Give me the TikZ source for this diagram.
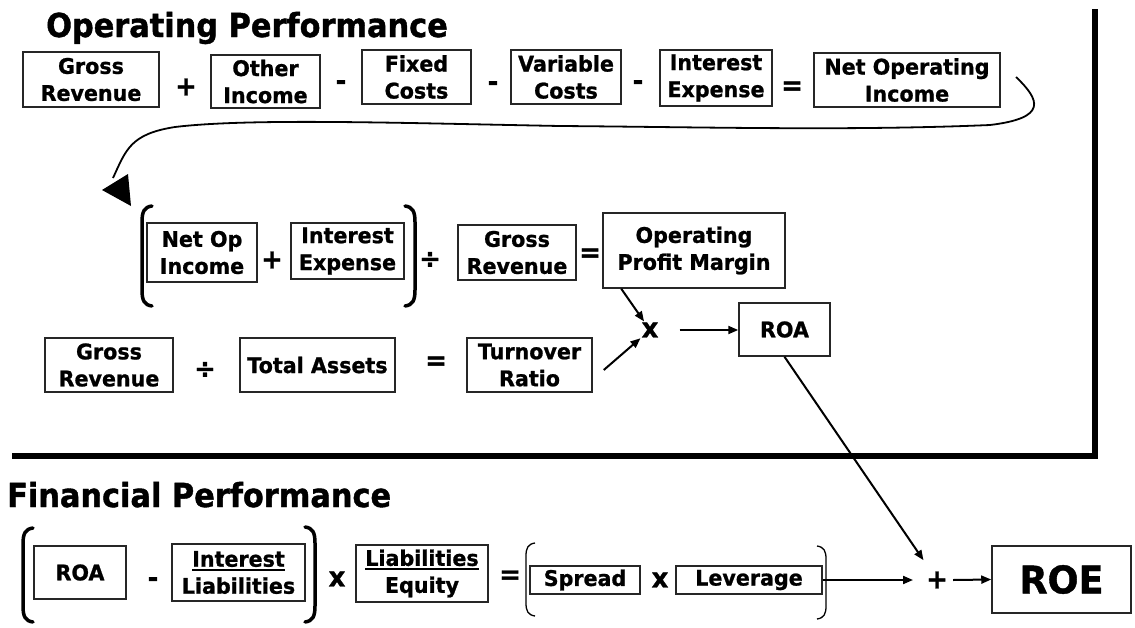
\documentclass[tikz,border=0pt]{standalone}
\usepackage{fontspec}
\setmainfont{DejaVu Sans}
\newfontfamily\titlef[FakeStretch=0.92,FakeBold=1.2]{DejaVu Sans}
\newfontfamily\boxf[FakeStretch=0.96,FakeBold=1.0]{DejaVu Sans}
\usetikzlibrary{arrows.meta}
\newcommand\myul[1]{\setbox0\hbox{#1}\rlap{\rule[-4pt]{\wd0}{2pt}}\box0}
\begin{document}
\begin{tikzpicture}[x=1pt,y=-1pt,
 bx/.style={draw=black!85, line width=1.5pt, inner sep=0pt, align=center, font=\boxf\fontsize{21.5}{27}\selectfont\bfseries},
 op/.style={inner sep=1pt, font=\boxf\fontsize{27}{30}\selectfont\bfseries},
 ttl/.style={anchor=base west, inner sep=0pt, font=\titlef\fontsize{33}{40}\selectfont\bfseries},
 arr/.style={line width=2pt, -{Triangle[length=10pt,width=8pt]}},
 bigbr/.style={line width=3.5pt, line cap=round},
 thinbr/.style={line width=1.3pt},
 frame/.style={line width=6pt}]
\useasboundingbox[fill=white] (0,0) rectangle (1135,627);

% titles
\node[ttl] (t1) at (46,37) {Operating Performance};
\node[ttl] (t2) at (7,507) {Financial Performance};

% row 1
\node[bx, minimum width=136pt, minimum height=55pt] (gr1) at (91,79.5) {Gross\\Revenue};
\node[op] (p1) at (186,87) {+};
\node[bx, minimum width=109pt, minimum height=53pt] (oi) at (265.5,81.5) {Other\\Income};
\node[op] (m1) at (341,85) {-};
\node[bx, minimum width=109pt, minimum height=54pt] (fc) at (416.5,77) {Fixed\\Costs};
\node[op] (m2) at (493,86) {-};
\node[bx, minimum width=110pt, minimum height=54pt] (vc) at (566,77) {Variable\\Costs};
\node[op] (m3) at (638,85) {-};
\node[bx, minimum width=112pt, minimum height=56pt] (ie) at (716,78) {Interest\\Expense};
\node[op] (e1) at (792,88) {=};
\node[bx, minimum width=186pt, minimum height=54pt] (noi) at (907,80) {Net Operating\\Income};

% curved connector
\coordinate (cs) at (1016,77);
\coordinate (ce) at (113,178);
\draw[line width=1.8pt] (cs) .. controls (1040,100) and (1048,118) .. (990,125)
  .. controls (850,131) and (700,127) .. (560,126)
  .. controls (400,123) and (250,118) .. (175,127)
  .. controls (130,134) and (126,150) .. (ce);
\fill (102,190) -- (128,174) -- (131,206) -- cycle;

% row 2
\draw[bigbr] (152,206) .. controls (144,207) and (142,212) .. (142,222) -- (142,290) .. controls (142,300) and (144,305) .. (152,306);
\node[bx, minimum width=110pt, minimum height=59pt] (nop) at (202,252.5) {Net Op\\Income};
\node[op] (p2) at (272,260) {+};
\node[bx, minimum width=113pt, minimum height=56pt] (ie2) at (347.5,251) {Interest\\Expense};
\draw[bigbr] (405,206) .. controls (413,207) and (415,212) .. (415,222) -- (415,290) .. controls (415,300) and (413,305) .. (405,306);
\node[op] (d1) at (430,260) {÷};
\node[bx, minimum width=118pt, minimum height=55pt] (gr2) at (517,252.5) {Gross\\Revenue};
\node[op] (e2) at (590,255) {=};
\node[bx, minimum width=182pt, minimum height=75pt] (opm) at (694,250.5) {Operating\\Profit Margin};

\node[op] (mul) at (650,330) {x};
\node[bx, minimum width=91pt, minimum height=53pt] (roa) at (784.5,329.5) {ROA};

% row 3
\node[bx, minimum width=128pt, minimum height=54pt] (gr3) at (109,365) {Gross\\Revenue};
\node[op] (d2) at (205,370) {÷};
\node[bx, minimum width=155pt, minimum height=54pt] (ta) at (317.5,365) {Total Assets};
\node[op] (e3) at (436,363) {=};
\node[bx, minimum width=125pt, minimum height=54pt] (tr) at (529.5,365) {Turnover\\Ratio};

\draw[arr] ([xshift=19pt]opm.south west) -- (mul);
\draw[arr] ([xshift=11pt,yshift=-5pt]tr.east) -- (mul);
\draw[arr] ([xshift=20pt]mul.east) -- (mul.east -| roa.west);

% frame
\coordinate (ft) at (1095,9);
\coordinate (fc) at (1095,456);
\coordinate (fl) at (12,456);
\draw[frame] (ft) -- (fc) -- (fl);

% financial row
\draw[bigbr] (33,528) .. controls (25,529) and (23,534) .. (23,544) -- (23,606) .. controls (23,616) and (25,621) .. (33,622);
\node[bx, minimum width=92pt, minimum height=53pt] (roa2) at (80,572.5) {ROA};
\node[op] (m4) at (153,582) {-};
\node[bx, minimum width=133pt, minimum height=57pt] (il) at (238.5,572.5) {\myul{Interest}\\Liabilities};
\draw[bigbr] (305,527) .. controls (313,528) and (315,533) .. (315,543) -- (315,606) .. controls (315,616) and (313,621) .. (305,622);
\node[op] (x2) at (337,579) {x};
\node[bx, minimum width=132pt, minimum height=57pt] (le) at (422,573.5) {\myul{Liabilities}\\Equity};
\node[op] (e4) at (510,577) {=};
\draw[thinbr] (535,543) .. controls (528,544) and (526,548) .. (526,556) -- (526,603) .. controls (526,611) and (528,615) .. (535,616);
\node[bx, minimum width=110pt, minimum height=28pt] (sp) at (585,580) {Spread};
\node[op] (x3) at (660,580) {x};
\node[bx, minimum width=146pt, minimum height=28pt] (lev) at (749,580) {Leverage};
\draw[thinbr] (817,546) .. controls (824,547) and (826,551) .. (826,559) -- (826,606) .. controls (826,614) and (824,618) .. (817,619);
\node[op] (plus2) at (937,580) {+};
\node[bx, minimum width=139pt, minimum height=67pt, font=\boxf\fontsize{38}{40}\selectfont\bfseries] (roe) at (1061.5,579.5) {ROE};

\draw[arr, shorten >=24pt] (roa.south) -- (plus2.center);
\draw[arr, shorten >=24pt] (lev.east) -- (lev.east -| plus2.center);
\draw[arr] ([xshift=16pt]plus2.center) -- (roe.west);
\end{tikzpicture}
\end{document}
